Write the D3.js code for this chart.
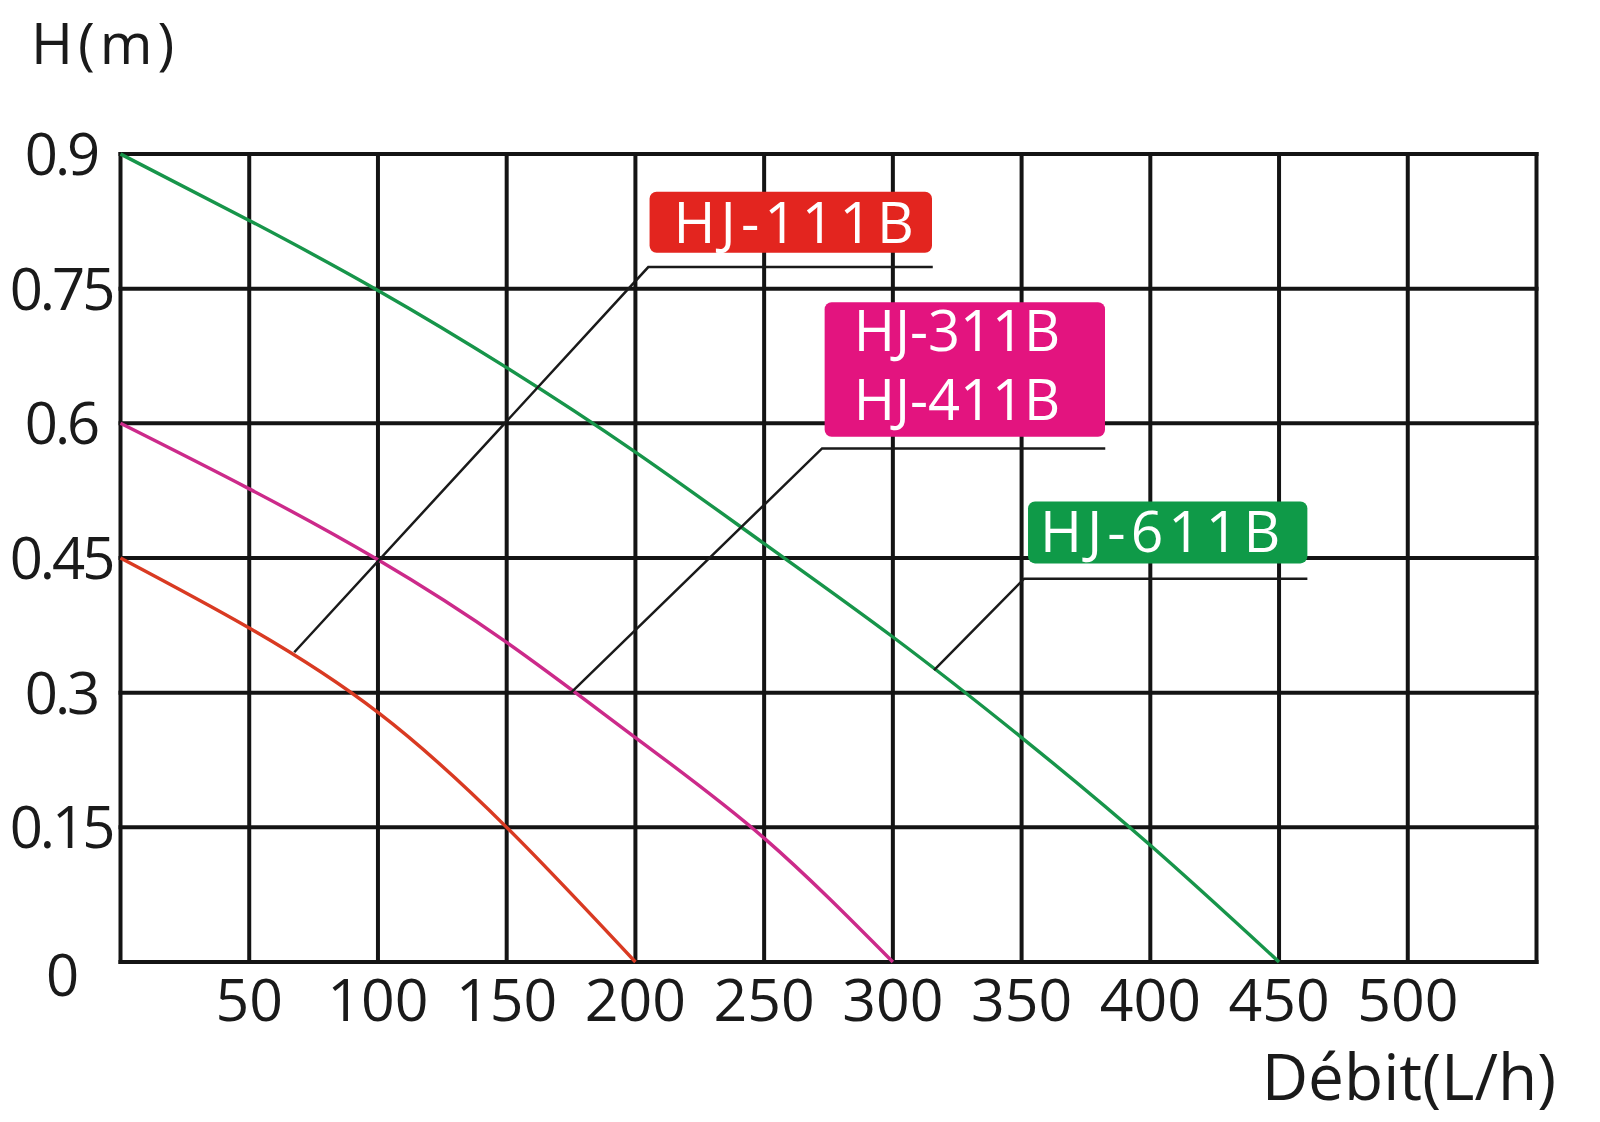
<!DOCTYPE html>
<html>
<head>
<meta charset="utf-8">
<script src="https://cdn.jsdelivr.net/npm/d3@7"></script>
<style>
  body { margin: 0; background: #fff; }
  text { font-family: "Open Sans", "Noto Sans", sans-serif; }
</style>
</head>
<body>
<div id="chart-area"></div>
<script>
// flow (L/h) and head (m)
var flowTicks = [50, 100, 150, 200, 250, 300, 350, 400, 450, 500];
var headTicks = [0, 0.15, 0.3, 0.45, 0.6, 0.75, 0.9];
var headLabels = ["0", "0.15", "0.3", "0.45", "0.6", "0.75", "0.9"];

var flow111 = [0, 50, 100, 150, 200];
var head111 = [0.45, 0.372, 0.278, 0.15, 0];

var flow311 = [0, 50, 100, 150, 200, 250, 300];
var head311 = [0.6, 0.527, 0.448, 0.356, 0.25, 0.138, 0];

var flow611 = [0, 50, 100, 150, 200, 250, 300, 350, 400, 450];
var head611 = [0.9, 0.826, 0.748, 0.662, 0.568, 0.466, 0.362, 0.25, 0.13, 0];

// label boxes and leaders, in data units
var labelNames = [["HJ-111B"], ["HJ-311B", "HJ-411B"], ["HJ-611B"]];
var labelColors = ["#e3251f", "#e3147f", "#0f9a48"];
var curveColors = ["#d93a22", "#cc2a8a", "#17954a"];
var leaderFrom = [[67.5, 0.345], [175, 0.30], [316, 0.325]];
var leaderTo = [[205, 0.774], [272.5, 0.572], [351, 0.427]];
var leaderEnd = [315.5, 382.5, 461];
var boxX = [[205.5, 315.2], [273.5, 382.4], [352.5, 461]];
var boxY = [[0.858, 0.79], [0.735, 0.585], [0.513, 0.444]];

var width = 1600, height = 1122;
var margin = {top: 154, right: 63.5, bottom: 160, left: 120.5};

var svg = d3.select("#chart-area")
  .append("svg")
  .attr("width", width)
  .attr("height", height);

var x = d3.scaleLinear()
  .domain([0, 550])
  .range([margin.left, width - margin.right]);

var y = d3.scaleLinear()
  .domain([0, 0.9])
  .range([height - margin.bottom, margin.top]);

// grid
var grid = svg.append("g").attr("stroke", "#141414").attr("stroke-width", 4);
grid.selectAll(".vline")
  .data(d3.range(0, 551, 50))
  .enter().append("line")
  .attr("x1", function(d) { return x(d); })
  .attr("x2", function(d) { return x(d); })
  .attr("y1", y(0) + 2)
  .attr("y2", y(0.9) - 2);
grid.selectAll(".hline")
  .data(headTicks)
  .enter().append("line")
  .attr("x1", x(0) - 2)
  .attr("x2", x(550) + 2)
  .attr("y1", function(d) { return y(d); })
  .attr("y2", function(d) { return y(d); });

// y tick labels
svg.selectAll(".ylab")
  .data(headTicks)
  .enter().append("text")
  .attr("x", 61)
  .attr("y", function(d) { return y(d) + (d === 0 ? 34 : 21); })
  .attr("text-anchor", "middle")
  .attr("font-size", "58px")
  .attr("letter-spacing", "-3px")
  .attr("fill", "#1a1a1a")
  .text(function(d, i) { return headLabels[i]; });

// x tick labels
svg.selectAll(".xlab")
  .data(flowTicks)
  .enter().append("text")
  .attr("x", function(d) { return x(d); })
  .attr("y", 1021)
  .attr("text-anchor", "middle")
  .attr("font-size", "59px")
  .attr("fill", "#1a1a1a")
  .text(function(d) { return d; });

// axis titles
svg.append("text")
  .attr("x", 31)
  .attr("y", 64)
  .attr("font-size", "57px")
  .attr("letter-spacing", "5px")
  .attr("fill", "#1a1a1a")
  .text("H(m)");

svg.append("text")
  .attr("x", 1556)
  .attr("y", 1100)
  .attr("text-anchor", "end")
  .attr("font-size", "64px")
  .attr("fill", "#1a1a1a")
  .text("Débit(L/h)");

// curves
var line = d3.line()
  .x(function(d) { return x(d[0]); })
  .y(function(d) { return y(d[1]); })
  .curve(d3.curveNatural);

var curves = [d3.zip(flow111, head111), d3.zip(flow311, head311), d3.zip(flow611, head611)];
svg.selectAll(".curve")
  .data(curves)
  .enter().append("path")
  .attr("d", line)
  .attr("fill", "none")
  .attr("stroke", function(d, i) { return curveColors[i]; })
  .attr("stroke-width", 3.4);

// leaders
svg.selectAll(".leader")
  .data(leaderFrom)
  .enter().append("polyline")
  .attr("points", function(d, i) {
    return [[x(d[0]), y(d[1])], [x(leaderTo[i][0]), y(leaderTo[i][1])], [x(leaderEnd[i]), y(leaderTo[i][1])]].join(" ");
  })
  .attr("fill", "none")
  .attr("stroke", "#1a1a1a")
  .attr("stroke-width", 2.5);

// label boxes
var labels = svg.selectAll(".label")
  .data(labelNames)
  .enter().append("g");

labels.append("rect")
  .attr("x", function(d, i) { return x(boxX[i][0]); })
  .attr("y", function(d, i) { return y(boxY[i][0]); })
  .attr("width", function(d, i) { return x(boxX[i][1]) - x(boxX[i][0]); })
  .attr("height", function(d, i) { return y(boxY[i][1]) - y(boxY[i][0]); })
  .attr("rx", 7)
  .attr("fill", function(d, i) { return labelColors[i]; });

labels.each(function(names, i) {
  var g = d3.select(this);
  var x0 = x(boxX[i][0]);
  var top = y(boxY[i][0]);
  names.forEach(function(n, j) {
    g.append("text")
      .attr("x", names.length > 1 ? x0 + 29 : x0 + (i === 0 ? 24 : 12))
      .attr("y", names.length > 1 ? top + 49 + j * 69 : top + 51)
      .attr("font-size", names.length > 1 ? "56px" : "57px")
      .attr("letter-spacing", names.length > 1 ? "0px" : "5px")
      .attr("fill", "#fff")
      .text(n);
  });
});
</script>
</body>
</html>
